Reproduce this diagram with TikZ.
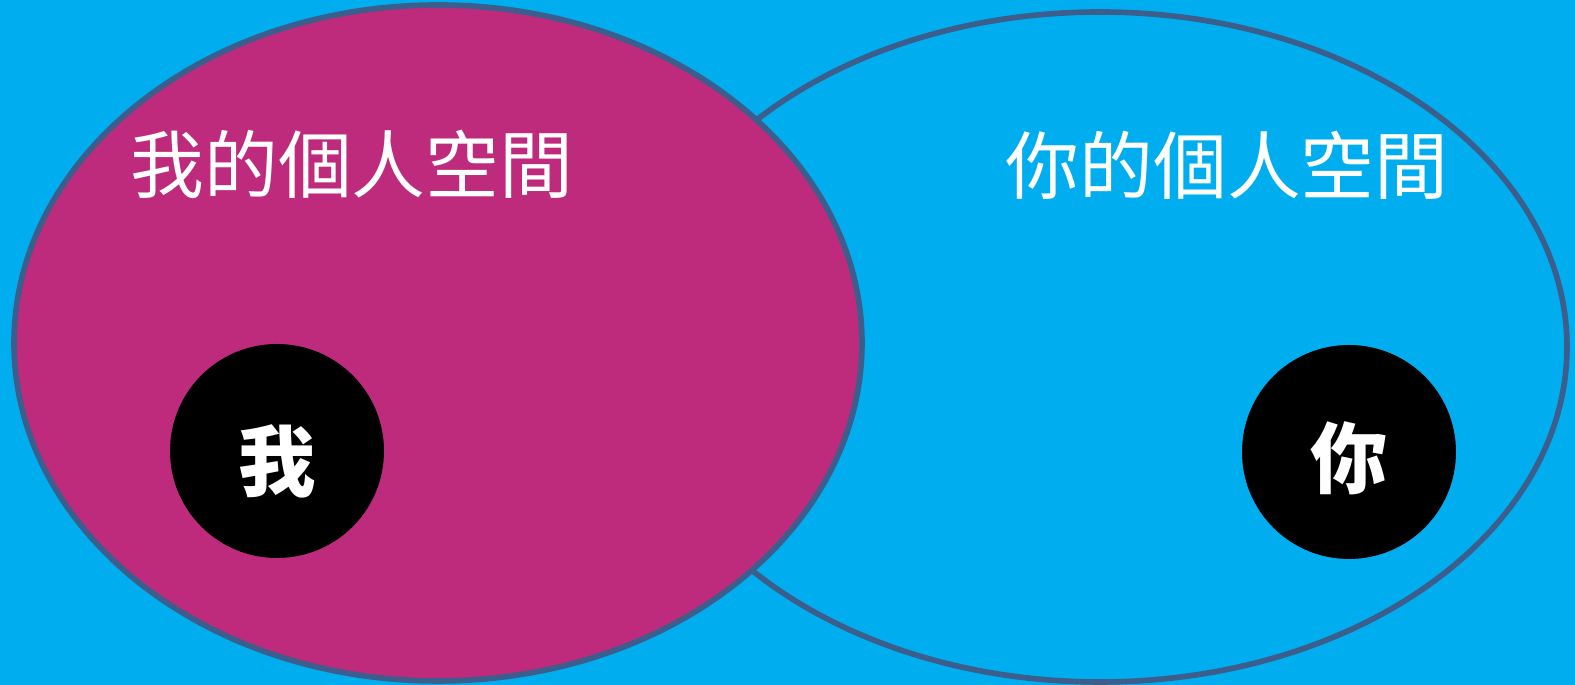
\documentclass[tikz,border=0pt]{standalone}
\usepackage{fontspec}
\newfontfamily\cjk{Noto Sans CJK TC}
\usetikzlibrary{shapes.geometric}
\definecolor{skyblue}{HTML}{00AEEF}
\definecolor{spacepink}{HTML}{BE2A7C}
\definecolor{rimblue}{HTML}{3B5E8C}
\begin{document}
\begin{tikzpicture}[
    space/.style={ellipse, draw=rimblue, line width=1.6pt, inner sep=0pt},
    self/.style={circle, fill=black, minimum size=2.14cm, inner sep=0pt},
    label/.style={text=white, font=\cjk\fontsize{21}{25}\selectfont},
    selflabel/.style={text=white, font=\cjk\bfseries\fontsize{22}{26}\selectfont}
]
    \fill[skyblue] (0,0) rectangle (15.75,6.85);

    \node[space, minimum width=9.34cm, minimum height=6.70cm] (yours) at (11.00,3.38) {};
    \node[space, fill=spacepink, minimum width=8.48cm, minimum height=6.76cm] (mine) at (4.38,3.42) {};

    \node[self] (me) at (2.77,2.34) {};
    \node[self] (you) at (13.49,2.33) {};

    \node[label] (minetext) at (3.52,5.21) {我的個人空間};
    \node[label] (yourstext) at (12.27,5.20) {你的個人空間};
    \node[selflabel] (metext) at (2.77,2.24) {我};
    \node[selflabel] (youtext) at (13.49,2.27) {你};
\end{tikzpicture}
\end{document}
